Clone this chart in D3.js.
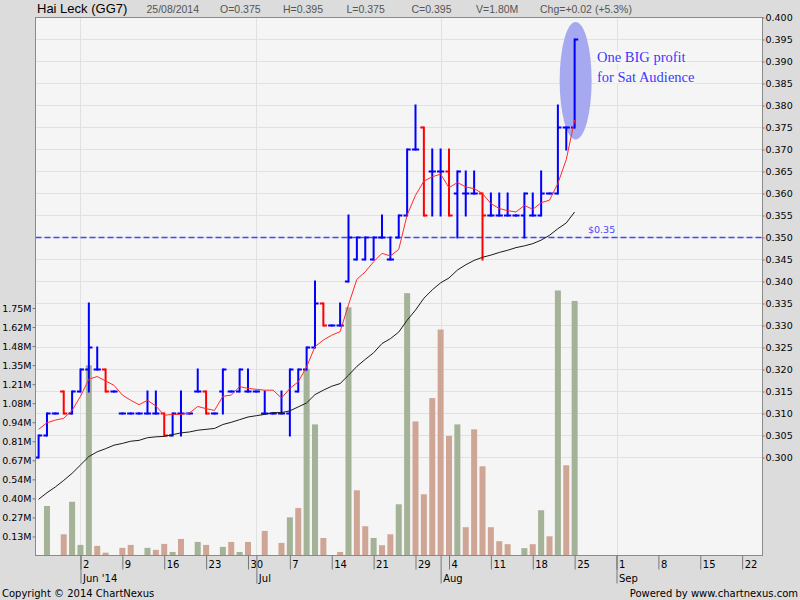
<!DOCTYPE html>
<html>
<head>
<meta charset="utf-8">
<title>Hai Leck (GG7)</title>
<script src="https://cdn.jsdelivr.net/npm/d3@7"></script>
<style>
  body { margin: 0; background: #dcdcdc; }
  svg { display: block; }
  text { font-family: "DejaVu Sans", sans-serif; }
</style>
</head>
<body>
<svg width="800" height="600"></svg>
<script>

// trading days shown, plus empty days to the right of the last bar
const tradeDays = [
  '2014-05-26','2014-05-27','2014-05-28','2014-05-29','2014-05-30',
  '2014-06-02','2014-06-03','2014-06-04','2014-06-05','2014-06-06',
  '2014-06-09','2014-06-10','2014-06-11','2014-06-12','2014-06-13',
  '2014-06-16','2014-06-17','2014-06-18','2014-06-19','2014-06-20',
  '2014-06-23','2014-06-24','2014-06-25','2014-06-26','2014-06-27',
  '2014-06-30','2014-07-01','2014-07-02','2014-07-03','2014-07-04',
  '2014-07-07','2014-07-08','2014-07-09','2014-07-10','2014-07-11',
  '2014-07-14','2014-07-15','2014-07-16','2014-07-17','2014-07-18',
  '2014-07-21','2014-07-22','2014-07-23','2014-07-24','2014-07-25',
  '2014-07-29','2014-07-30','2014-07-31','2014-08-01',
  '2014-08-04','2014-08-05','2014-08-06','2014-08-07','2014-08-08',
  '2014-08-11','2014-08-12','2014-08-13','2014-08-14','2014-08-15',
  '2014-08-18','2014-08-19','2014-08-20','2014-08-21','2014-08-22',
  '2014-08-25'
];
const futureDays = [
  '2014-08-26','2014-08-27','2014-08-28','2014-08-29',
  '2014-09-01','2014-09-02','2014-09-03','2014-09-04','2014-09-05',
  '2014-09-08','2014-09-09','2014-09-10','2014-09-11','2014-09-12',
  '2014-09-15','2014-09-16','2014-09-17','2014-09-18','2014-09-19',
  '2014-09-22','2014-09-23','2014-09-24'
];

const open = [
  .300,.305,.310,.315,.310,.315,.320,.320,.320,.315,
  .310,.310,.310,.310,.310,.310,.305,.310,.310,.315,
  .315,.310,.315,.315,.315,.315,.315,.310,.310,.310,
  .310,.315,.320,.325,.335,.330,.330,.340,.345,.345,
  .345,.350,.345,.350,.355,.370,.375,.365,.365,.365,
  .360,.360,.360,.360,.355,.355,.355,.355,.355,.355,
  .355,.360,.360,.375,.375
];
const high = [
  .305,.310,.310,.315,.315,.320,.335,.325,.320,.315,
  .310,.310,.310,.315,.315,.310,.310,.315,.310,.320,
  .315,.310,.320,.315,.320,.320,.315,.315,.310,.315,
  .320,.320,.325,.340,.335,.330,.335,.355,.350,.350,
  .350,.355,.350,.355,.370,.380,.375,.370,.370,.370,
  .365,.365,.365,.360,.360,.360,.360,.355,.360,.360,
  .365,.360,.380,.375,.395
];
const low = [
  .300,.305,.310,.310,.310,.315,.315,.320,.315,.315,
  .310,.310,.310,.310,.310,.305,.305,.305,.310,.315,
  .310,.310,.310,.315,.315,.315,.315,.310,.310,.310,
  .305,.315,.320,.325,.330,.330,.330,.340,.345,.345,
  .345,.350,.345,.350,.355,.370,.355,.355,.355,.355,
  .350,.355,.360,.345,.355,.355,.355,.355,.350,.355,
  .355,.360,.360,.370,.375
];
const close = [
  .305,.310,.310,.310,.315,.320,.325,.320,.315,.315,
  .310,.310,.310,.310,.310,.305,.310,.310,.310,.315,
  .310,.310,.320,.315,.320,.315,.315,.310,.310,.310,
  .320,.320,.325,.335,.330,.330,.330,.350,.350,.350,
  .350,.350,.345,.355,.370,.370,.355,.365,.365,.355,
  .365,.360,.360,.355,.355,.355,.355,.355,.360,.355,
  .360,.360,.375,.375,.395
];
// volume in millions of shares
const volume = [
  0,.35,0,.15,.38,.075,1.345,.068,.02,0,
  .054,.075,0,.054,.04,.082,.025,.117,0,.096,
  .075,0,.061,.096,.025,.096,0,.174,0,.089,
  .27,.336,1.32,.927,.124,0,.025,1.755,.461,.207,
  .124,.073,.15,.362,1.855,.948,.433,1.113,1.598,.845,
  .927,.2,.892,.631,.2,.101,.08,0,.052,.08,
  .32,.136,1.874,.638,1.80
];
const volSide = [
  '-','g','-','r','g','g','g','r','r','-',
  'r','r','-','g','r','r','g','r','-','g',
  'r','-','g','r','g','r','-','r','-','r',
  'g','r','g','g','r','-','r','g','r','r',
  'g','r','r','g','g','r','r','r','r','r',
  'g','r','r','r','r','r','r','-','g','r',
  'g','r','g','r','g'
];
// short (red) and long (black) moving averages as drawn
const maShort = [
  .3064,.3079,.3085,.3089,.3107,.3139,.3178,.3184,.3174,.3164,
  .3142,.3130,.3120,.3130,.3117,.3096,.3098,.3098,.3101,.3116,
  .3111,.3107,.3139,.3142,.3161,.3157,.3155,.3153,.3153,.3135,
  .3157,.3172,.3206,.3252,.3267,.3278,.3286,.3347,.3405,.3422,
  .3445,.3464,.3458,.3473,.3551,.3596,.3628,.3638,.3644,.3613,
  .3625,.3615,.3611,.3600,.3577,.3566,.3561,.3558,.3573,.3564,
  .3579,.3585,.3623,.3677,.3767
];
const maLong = [
  .2905,.2920,.2933,.2948,.2964,.2983,.3002,.3013,.3020,.3028,
  .3032,.3037,.3039,.3045,.3047,.3048,.3052,.3056,.3058,.3062,
  .3064,.3066,.3075,.3080,.3086,.3092,.3095,.3098,.3102,.3102,
  .3106,.3115,.3124,.3143,.3153,.3162,.3168,.3187,.3207,.3223,
  .3238,.3259,.3270,.3285,.3312,.3335,.3362,.3381,.3397,.3408,
  .3426,.3438,.3448,.3455,.3460,.3466,.3471,.3477,.3481,.3486,
  .3494,.3505,.3520,.3533,.3558
];

const priceTicks = [.300,.305,.310,.315,.320,.325,.330,.335,.340,.345,.350,
                    .355,.360,.365,.370,.375,.380,.385,.390,.395,.400];
const volTicks = [.1346,.2692,.4038,.5385,.6731,.8077,.9423,1.0769,1.2115,1.3462,1.4808,1.6154,1.75];
const volLabels = ['0.13M','0.27M','0.40M','0.54M','0.67M','0.81M','0.94M','1.08M','1.21M','1.35M','1.48M','1.62M','1.75M'];
const weekTicks = ['2014-06-02','2014-06-09','2014-06-16','2014-06-23','2014-06-30','2014-07-07',
  '2014-07-14','2014-07-21','2014-07-29','2014-08-04','2014-08-11','2014-08-18','2014-08-25',
  '2014-09-01','2014-09-08','2014-09-15','2014-09-22'];
const monthTicks = ['2014-06-02','2014-07-01','2014-08-01','2014-09-01'];
const monthLabels = ["Jun '14", 'Jul', 'Aug', 'Sep'];

const title = 'Hai Leck (GG7)';
const quote = ['25/08/2014', 'O=0.375', 'H=0.395', 'L=0.375', 'C=0.395', 'V=1.80M', 'Chg=+0.02 (+5.3%)'];
const alertLevel = 0.35;
const alertLabel = '$0.35';
const note = ['One BIG profit', 'for Sat Audience'];
const noteRange = [0.3723, 0.3990];

// ---- layout
const L = 35.5, R = 762.5, T = 17.5, B = 555.5;

const allDays = tradeDays.concat(futureDays);
const dayIdx = new Map(allDays.map((d, i) => [d, i]));

const x = d3.scaleLinear().domain([-0.37, 86.43]).range([L, R]);
const y = d3.scaleLinear().domain([0.300, 0.400]).range([457.5, T]);
const yv = d3.scaleLinear().domain([0, 1.75]).range([B, 308]);

const svg = d3.select('svg');

// header
svg.append('text').attr('x', 37).attr('y', 13)
  .style('font-family', '"Liberation Sans", Arial, sans-serif')
  .style('font-size', '13px').attr('fill', '#000').text(title);
const quoteX = [146.5, 220, 283, 346.5, 411.5, 476, 540];
quote.forEach((q, i) => {
  svg.append('text').attr('x', quoteX[i]).attr('y', 12.5)
    .style('font-family', '"Liberation Sans", Arial, sans-serif')
    .style('font-size', '10.5px').attr('fill', '#555').text(q);
});

// plot background
svg.append('rect').attr('x', L).attr('y', T).attr('width', R - L).attr('height', B - T)
  .attr('fill', '#f5f5f5');

svg.append('clipPath').attr('id', 'plot')
  .append('rect').attr('x', L).attr('y', T).attr('width', R - L).attr('height', B - T);

// grid
const grid = svg.append('g');
priceTicks.forEach(p => {
  grid.append('line').attr('x1', L).attr('x2', R).attr('y1', y(p)).attr('y2', y(p))
    .attr('stroke', '#e1e1e1');
});
monthTicks.forEach(d => {
  const xx = Math.round(x(dayIdx.get(d))) + 0.5;
  grid.append('line').attr('x1', xx).attr('x2', xx).attr('y1', T).attr('y2', B)
    .attr('stroke', '#e1e1e1');
});

const plot = svg.append('g').attr('clip-path', 'url(#plot)');

// volume bars
tradeDays.forEach((d, i) => {
  if (!volume[i]) return;
  plot.append('rect')
    .attr('x', x(i) - 3).attr('width', 6)
    .attr('y', yv(volume[i])).attr('height', yv(0) - yv(volume[i]))
    .attr('fill', volSide[i] === 'g' ? '#a4b297' : '#cfa695');
});

// alert line
plot.append('line').attr('x1', L).attr('x2', R)
  .attr('y1', y(alertLevel)).attr('y2', y(alertLevel))
  .attr('stroke', '#4646ff').attr('stroke-width', 1.3).attr('stroke-dasharray', '6,3');
svg.append('text').attr('x', 588).attr('y', 233).attr('fill', '#4646ff')
  .style('font-size', '9.5px').text(alertLabel);

// highlight ellipse
const last = tradeDays.length - 1;
plot.append('ellipse')
  .attr('cx', x(last) + 1).attr('cy', (y(noteRange[0]) + y(noteRange[1])) / 2)
  .attr('rx', 16).attr('ry', (y(noteRange[0]) - y(noteRange[1])) / 2)
  .attr('fill', '#a6a9f0');

// note text
note.forEach((t, i) => {
  const tx = svg.append('text').attr('x', 597).attr('y', 62 + i * 19.5)
    .style('font-family', '"Liberation Serif", "DejaVu Serif", serif')
    .style('font-size', '14.5px').attr('fill', '#3a3aff').text(t);
  const bb = tx.node().getBBox();
  svg.insert('rect', () => tx.node())
    .attr('x', bb.x - 1).attr('y', bb.y + 2).attr('width', bb.width + 2).attr('height', bb.height - 3)
    .attr('fill', '#f7f7f7');
});

// OHLC bars
tradeDays.forEach((d, i) => {
  const c = close[i] < open[i] ? '#ff0000' : '#0000ff';
  const cx = x(i);
  const g = plot.append('g').attr('fill', c);
  g.append('rect').attr('x', cx - 1).attr('width', 2)
    .attr('y', y(high[i]) - 1).attr('height', y(low[i]) - y(high[i]) + 2);
  g.append('rect').attr('x', cx - 3.6).attr('width', 3.6)
    .attr('y', y(open[i]) - 1).attr('height', 2);
  g.append('rect').attr('x', cx).attr('width', 3.6)
    .attr('y', y(close[i]) - 1).attr('height', 2);
});

// moving averages
const line = d3.line().x((d, i) => x(i)).y(d => y(d));
plot.append('path').datum(maLong).attr('d', line)
  .attr('fill', 'none').attr('stroke', '#1a1a1a').attr('stroke-width', 1);
plot.append('path').datum(maShort).attr('d', line)
  .attr('fill', 'none').attr('stroke', '#ff2a2a').attr('stroke-width', 1);

// frame
svg.append('rect').attr('x', L).attr('y', T).attr('width', R - L).attr('height', B - T)
  .attr('fill', 'none').attr('stroke', '#8a8a8a');

// left volume axis
const ax = svg.append('g').attr('transform', `translate(${L},0)`)
  .call(d3.axisLeft(yv).tickValues(volTicks).tickFormat((d, i) => volLabels[i]).tickSize(3).tickPadding(1));
ax.select('.domain').remove();
ax.selectAll('line').attr('stroke', '#777');
ax.selectAll('text').style('font-size', '9.5px').style('font-family', '"DejaVu Sans", sans-serif').attr('fill', '#000');

// right price axis
const ay = svg.append('g').attr('transform', `translate(${R},0)`)
  .call(d3.axisRight(y).tickValues(priceTicks).tickFormat(d3.format('.3f')).tickSize(2).tickPadding(1));
ay.select('.domain').remove();
ay.selectAll('line').attr('stroke', '#777');
ay.selectAll('text').style('font-size', '9.5px').style('font-family', '"DejaVu Sans", sans-serif').attr('fill', '#000');

// bottom axis: weeks and months
const fmtDay = d3.timeFormat('%-d');
const parse = d3.timeParse('%Y-%m-%d');
const aw = svg.append('g').attr('transform', `translate(0,${B})`)
  .call(d3.axisBottom(x).tickValues(weekTicks.map(d => dayIdx.get(d)))
    .tickFormat((d, i) => fmtDay(parse(weekTicks[i]))).tickSize(14));
aw.select('.domain').remove();
aw.selectAll('line').attr('stroke', '#777');
aw.selectAll('text').attr('text-anchor', 'start').attr('x', 2).attr('y', 5).attr('dy', '0.71em')
  .style('font-size', '10px').style('font-family', '"DejaVu Sans", sans-serif').attr('fill', '#000');

const am = svg.append('g').attr('transform', `translate(0,${B})`)
  .call(d3.axisBottom(x).tickValues(monthTicks.map(d => dayIdx.get(d)))
    .tickFormat((d, i) => monthLabels[i]).tickSize(28));
am.select('.domain').remove();
am.selectAll('line').attr('stroke', '#777');
am.selectAll('text').attr('text-anchor', 'start').attr('x', 2).attr('y', 19).attr('dy', '0.71em')
  .style('font-size', '10px').style('font-family', '"DejaVu Sans", sans-serif').attr('fill', '#000');

// footer
svg.append('text').attr('x', 2).attr('y', 597).style('font-size', '10px').attr('fill', '#000')
  .text('Copyright \u00a9 2014 ChartNexus');
svg.append('text').attr('x', 798).attr('y', 597).attr('text-anchor', 'end')
  .style('font-size', '10px').attr('fill', '#000').text('Powered by www.chartnexus.com');

</script>
</body>
</html>
